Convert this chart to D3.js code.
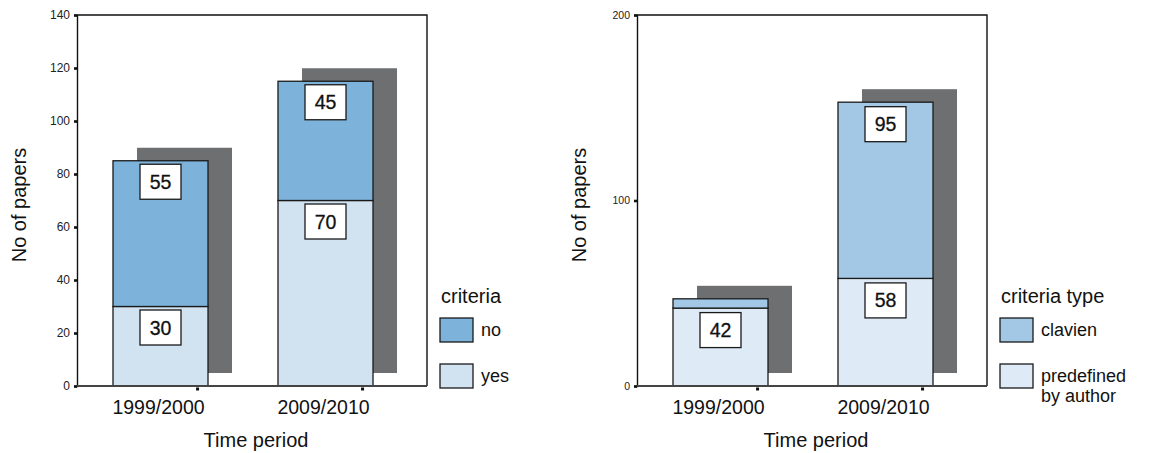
<!DOCTYPE html>
<html>
<head>
<meta charset="utf-8">
<script src="https://cdn.jsdelivr.net/npm/d3@7/dist/d3.min.js"></script>
<style>
  html, body { margin: 0; padding: 0; background: #fff; }
  svg { display: block; font-family: "Liberation Sans", Arial, Helvetica, sans-serif; }
</style>
</head>
<body>
<svg id="chart" width="1149" height="453"></svg>
<script>
// ---- data ----
const periods = ["1999/2000", "2009/2010"];

// Panel A: papers reporting complication criteria
const criteriaKeys = ["yes", "no"];          // stacked bottom -> top
const criteriaYes = [30, 70];
const criteriaNo = [55, 45];
const criteriaTicks = [0, 20, 40, 60, 80, 100, 120, 140];
const criteriaMax = 140;

// Panel B: type of criteria used
const typeKeys = ["predefined", "clavien"];  // stacked bottom -> top
const typePredefined = [42, 58];
const typeClavien = [5, 95];
const typeTicks = [0, 100, 200];
const typeMax = 200;

// ---- layout ----
const svg = d3.select("#chart");
const plotTop = 15, plotBottom = 386;
const panelW = 350;
const shadowDx = 24, shadowDy = -13;

function drawPanel(opt) {
  const g = svg.append("g");
  const x = d3.scaleBand()
    .domain(periods)
    .range([opt.left, opt.left + panelW])
    .paddingInner(0.4242)
    .paddingOuter(0.2727)
    .align(0.4);
  const y = d3.scaleLinear().domain([0, opt.max]).range([plotBottom, plotTop]);

  const rows = periods.map((p, i) => {
    const r = { period: p, idx: i };
    opt.keys.forEach((k, j) => { r[k] = opt.values[j][i]; });
    return r;
  });
  const stacked = d3.stack().keys(opt.keys)(rows);

  // frame: top and right edges
  g.append("path")
    .attr("d", `M${opt.left},${plotTop}H${opt.left + panelW}V${plotBottom}`)
    .attr("fill", "none").attr("stroke", "#111").attr("stroke-width", 1.4);

  // drop shadows behind each full bar
  const totals = rows.map(r => d3.sum(opt.keys, k => r[k]));
  g.append("g").selectAll("rect").data(rows).join("rect")
    .attr("x", d => x(d.period) + shadowDx)
    .attr("y", (d, i) => y(totals[i]) + shadowDy)
    .attr("width", x.bandwidth())
    .attr("height", (d, i) => y(0) - y(totals[i]))
    .attr("fill", "#6e6f71");

  // stacked segments
  const seg = g.append("g").selectAll("g").data(stacked).join("g")
    .attr("fill", d => opt.colors[d.key]);
  seg.selectAll("rect").data(d => d).join("rect")
    .attr("x", d => x(d.data.period))
    .attr("y", d => y(d[1]))
    .attr("width", x.bandwidth())
    .attr("height", d => y(d[0]) - y(d[1]))
    .attr("stroke", "#1a1a1a").attr("stroke-width", 1.3);

  // value boxes near the top of each labelled segment
  const labels = [];
  stacked.forEach(s => s.forEach(d => {
    const v = d[1] - d[0];
    if (opt.labelled[s.key][d.data.idx]) labels.push({ period: d.data.period, top: d[1], v });
  }));
  const lg = g.append("g").selectAll("g").data(labels).join("g")
    .attr("transform", d => `translate(${x(d.period) + x.bandwidth() / 2},${y(d.top) + opt.labelGap})`);
  lg.append("rect")
    .attr("x", -20.5).attr("y", 0).attr("width", 41).attr("height", 35)
    .attr("fill", "#fff").attr("stroke", "#1a1a1a").attr("stroke-width", 1.3);
  lg.append("text")
    .attr("y", 24.5).attr("text-anchor", "middle")
    .attr("font-size", 19.5).attr("fill", "#111")
    .attr("stroke", "#111").attr("stroke-width", 0.3)
    .text(d => d.v);

  // y axis
  const ya = g.append("g").attr("transform", `translate(${opt.left},0)`)
    .call(d3.axisLeft(y).tickValues(opt.ticks).tickSize(3).tickPadding(4).tickFormat(d3.format("d")));
  ya.select(".domain").attr("stroke", "#111").attr("stroke-width", 1.4);
  ya.selectAll(".tick line").attr("stroke", "#111").attr("stroke-width", 2.6);
  ya.selectAll(".tick text").attr("font-size", opt.tickFont).attr("fill", "#222")
    .attr("font-family", "'Liberation Sans', Arial, sans-serif");

  // x axis baseline
  g.append("line")
    .attr("x1", opt.left).attr("x2", opt.left + panelW)
    .attr("y1", plotBottom).attr("y2", plotBottom)
    .attr("stroke", "#444").attr("stroke-width", 1.8);
  // small tick dots on the baseline
  g.append("g").selectAll("rect").data(periods).join("rect")
    .attr("x", d => x(d) + x.bandwidth() * 0.89 - 1.5)
    .attr("y", plotBottom + 1.5).attr("width", 3).attr("height", 3)
    .attr("fill", "#111");
  // category labels
  g.append("g").selectAll("text").data(periods).join("text")
    .attr("x", d => x(d) + x.bandwidth() / 2 - 2)
    .attr("y", 414).attr("text-anchor", "middle")
    .attr("font-size", 19.5).attr("fill", "#111")
    .text(d => d);

  // axis titles
  g.append("text")
    .attr("x", opt.left + panelW / 2 + 4).attr("y", 447)
    .attr("text-anchor", "middle").attr("font-size", 20).attr("fill", "#111")
    .text("Time period");
  g.append("text")
    .attr("transform", `translate(${opt.left - 51},205) rotate(-90)`)
    .attr("text-anchor", "middle").attr("font-size", 20).attr("fill", "#111")
    .text("No of papers");

  // legend
  const lx = opt.left + panelW + 13;
  g.append("text").attr("x", lx + 1).attr("y", 303)
    .attr("font-size", 20).attr("fill", "#111").text(opt.legendTitle);
  const items = opt.keys.slice().reverse();
  items.forEach((k, i) => {
    const by = 318 + i * 46;
    g.append("rect").attr("x", lx).attr("y", by).attr("width", 33).attr("height", 24)
      .attr("fill", opt.colors[k]).attr("stroke", "#1a1a1a").attr("stroke-width", 1.3);
    const t = g.append("text").attr("x", lx + 41).attr("y", by + 18)
      .attr("font-size", 18).attr("fill", "#111");
    opt.legendNames[k].forEach((line, j) => {
      t.append("tspan").attr("x", lx + 41).attr("dy", j === 0 ? 0 : 20).text(line);
    });
  });
}

drawPanel({
  left: 77,
  max: criteriaMax,
  ticks: criteriaTicks,
  tickFont: 12,
  keys: criteriaKeys,
  values: [criteriaYes, criteriaNo],
  colors: { yes: "#d1e3f1", no: "#7db3da" },
  labelled: { yes: [true, true], no: [true, true] },
  labelGap: 3.5,
  legendTitle: "criteria",
  legendNames: { no: ["no"], yes: ["yes"] }
});

drawPanel({
  left: 637,
  max: typeMax,
  ticks: typeTicks,
  tickFont: 10.5,
  keys: typeKeys,
  values: [typePredefined, typeClavien],
  colors: { predefined: "#deebf6", clavien: "#a2c8e6" },
  labelled: { predefined: [true, true], clavien: [false, true] },
  labelGap: 4.5,
  legendTitle: "criteria type",
  legendNames: { clavien: ["clavien"], predefined: ["predefined", "by author"] }
});
</script>
</body>
</html>
